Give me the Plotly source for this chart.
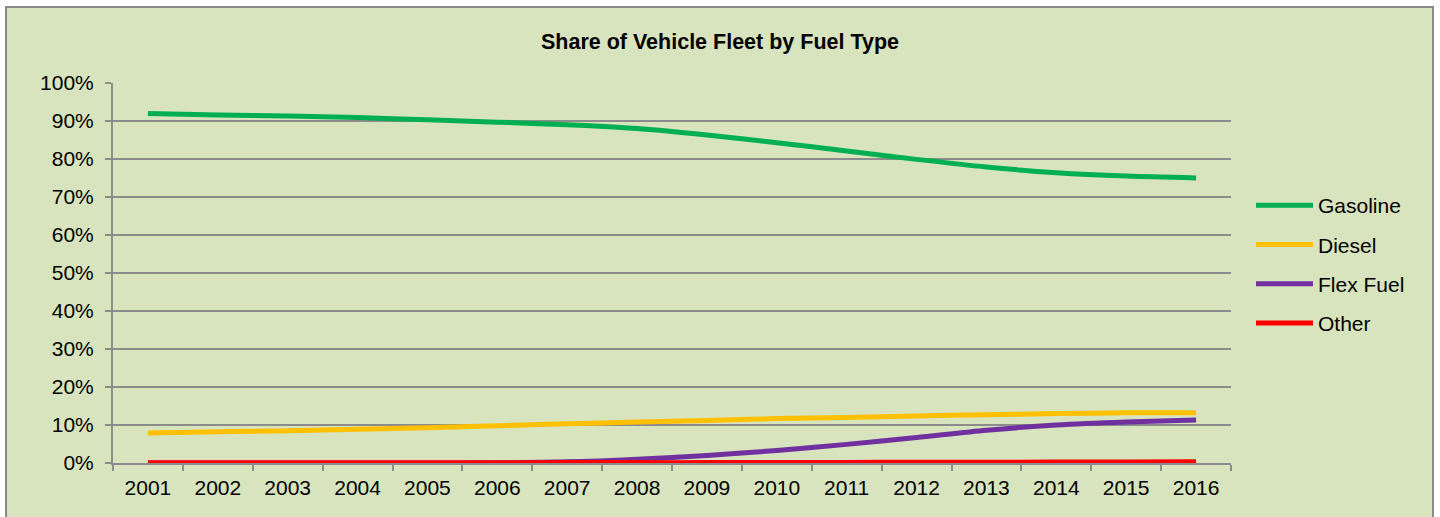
import plotly.graph_objects as go

# Share of the vehicle fleet (%) by fuel type, 2001-2016
years = [str(y) for y in range(2001, 2017)]
gasoline = [92.0, 91.6, 91.3, 90.9, 90.3, 89.7, 89.0, 88.0, 86.3, 84.3, 82.1, 79.9, 77.9, 76.4, 75.5, 75.0]
diesel = [7.9, 8.2, 8.5, 8.9, 9.3, 9.8, 10.3, 10.8, 11.2, 11.7, 12.0, 12.4, 12.7, 13.0, 13.2, 13.2]
flex_fuel = [0.0, 0.0, 0.0, 0.0, 0.0, 0.05, 0.3, 1.0, 2.0, 3.3, 4.9, 6.7, 8.6, 10.0, 10.8, 11.3]
other = [0.05, 0.05, 0.05, 0.05, 0.05, 0.05, 0.1, 0.1, 0.1, 0.15, 0.15, 0.2, 0.2, 0.25, 0.25, 0.3]

series = [
    ("Gasoline", gasoline, "#00B050"),
    ("Diesel", diesel, "#FFC000"),
    ("Flex Fuel", flex_fuel, "#7030A0"),
    ("Other", other, "#FF0000"),
]

BG = "#D7E4BD"
GRID = "#8C8C8C"
FONT = "Liberation Sans, Arial, sans-serif"

fig = go.Figure()
for i, (name, vals, color) in enumerate(series):
    fig.add_trace(go.Scatter(
        x=years, y=vals, name=name, mode="lines",
        line=dict(color=color, width=5, shape="spline", smoothing=0.8),
        legendgroup=f"g{i}",
    ))

W, H = 1440, 517
L, R, T, B = 113, 209, 83, 54
pw, ph = W - L - R, H - T - B

def px_x(p):
    return (p - L) / pw

def px_y(p):
    return (H - B - p) / ph

# chart-area panel with thin grey frame
fig.add_shape(type="rect", xref="paper", yref="paper",
              x0=px_x(6), x1=px_x(1433), y0=px_y(540), y1=px_y(7),
              fillcolor=BG, line=dict(color="#8A8A8A", width=2), layer="below")

fig.update_layout(
    width=W, height=H,
    margin=dict(l=L, r=R, t=T, b=B),
    paper_bgcolor="white",
    plot_bgcolor="rgba(0,0,0,0)",
    font=dict(family=FONT, size=21, color="#000000"),
    title=dict(text="<b>Share of Vehicle Fleet by Fuel Type</b>",
               x=0.5, xref="container", y=1 - 41 / H, yref="container",
               xanchor="center", yanchor="middle",
               font=dict(family=FONT, size=21.5, color="#000000")),
    legend=dict(x=px_x(1251), y=px_y(185), xanchor="left", yanchor="top",
                bgcolor="rgba(0,0,0,0)", font=dict(family=FONT, size=21),
                itemwidth=57, tracegroupgap=9, traceorder="grouped"),
    showlegend=True,
)

fig.update_xaxes(
    type="category", range=[-0.5, 15.5],
    showline=True, linecolor=GRID, linewidth=2,
    ticks="outside", tickson="boundaries", ticklen=6, tickcolor=GRID, tickwidth=2,
    showgrid=False, zeroline=False, ticklabelstandoff=5,
    tickfont=dict(family=FONT, size=21),
)
fig.update_yaxes(
    range=[0, 100], dtick=10, ticksuffix="%",
    showline=True, linecolor=GRID, linewidth=2,
    ticks="outside", ticklen=6, tickcolor=GRID, tickwidth=2,
    showgrid=True, gridcolor=GRID, gridwidth=2, zeroline=False,
    ticklabelstandoff=7,
    tickfont=dict(family=FONT, size=21),
)

fig.write_html("out.html")
